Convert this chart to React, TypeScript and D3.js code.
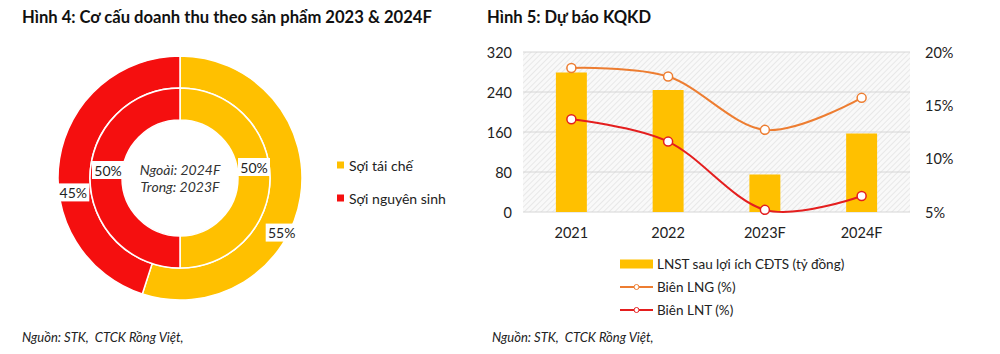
import React from 'react';
import * as d3 from 'd3';

// left chart: revenue structure by product
const productNames = ['Sợi tái chế', 'Sợi nguyên sinh'];
const outer2024 = [55, 45];
const inner2023 = [50, 50];

// right chart: earnings forecast
const years = ['2021', '2022', '2023F', '2024F'];
const lnstValues = [279, 244, 75, 157];
const lngMargin = [18.5, 17.7, 12.7, 15.7];
const lntMargin = [13.7, 11.6, 5.2, 6.5];
const leftTicks = [0, 80, 160, 240, 320];
const rightTicks = [5, 10, 15, 20];

const YELLOW = '#FFC000';
const RED = '#F50F0F';
const ORANGE = '#ED7D31';
const LINE_RED = '#E41E1E';
const FONT = 'Lato, "Open Sans", sans-serif';
const TEXT = '#222';

const Donut = () => {
  const cx = 180, cy = 178;
  const pie = d3.pie<number>().sort(null).startAngle(0).endAngle(2 * Math.PI);
  const outerArc = d3.arc<d3.PieArcDatum<number>>().innerRadius(90).outerRadius(122);
  const innerArc = d3.arc<d3.PieArcDatum<number>>().innerRadius(58).outerRadius(90);
  const colors = [YELLOW, RED];
  const outerArcs = pie(outer2024);
  const innerArcs = pie(inner2023);
  // Excel moved the labels a bit off the centroids
  const outerShift = [[-3, 38], [-2, 31]];
  const innerShift = [[0, -11], [2, -8]];

  const label = (x: number, y: number, t: string, key: string) => (
    <g key={key}>
      <rect x={x - 16} y={y - 9} width={32} height={18} fill="#fff" />
      <text x={x} y={y} textAnchor="middle" dominantBaseline="central" fontSize={14} fill={TEXT}>{t}</text>
    </g>
  );

  return (
    <g fontFamily={FONT}>
      <text x={22} y={23} fontSize={16.6} fontWeight="bold" fill="#111">Hình 4: Cơ cấu doanh thu theo sản phẩm 2023 &amp; 2024F</text>
      <g transform={`translate(${cx},${cy})`}>
        {outerArcs.map((a, i) => (
          <path key={'o' + i} d={outerArc(a) || ''} fill={colors[i]} stroke="#fff" strokeWidth={1.5} />
        ))}
        {innerArcs.map((a, i) => (
          <path key={'i' + i} d={innerArc(a) || ''} fill={colors[i]} stroke="#fff" strokeWidth={1.5} />
        ))}
        {outerArcs.map((a, i) => {
          const [x, y] = outerArc.centroid(a);
          return label(x + outerShift[i][0], y + outerShift[i][1], `${a.data}%`, 'ol' + i);
        })}
        {innerArcs.map((a, i) => {
          const [x, y] = innerArc.centroid(a);
          return label(x + innerShift[i][0], y + innerShift[i][1], `${a.data}%`, 'il' + i);
        })}
        <text x={0} y={-9} textAnchor="middle" dominantBaseline="central" fontSize={14} fontStyle="italic" fill="#333">Ngoài: 2024F</text>
        <text x={0} y={8} textAnchor="middle" dominantBaseline="central" fontSize={14} fontStyle="italic" fill="#333">Trong: 2023F</text>
      </g>
      {productNames.map((n, i) => (
        <g key={n} transform={`translate(337,${165 + i * 33})`}>
          <rect x={0} y={-3.5} width={7} height={7} fill={colors[i]} />
          <text x={12} y={0} dominantBaseline="central" fontSize={14} fill={TEXT}>{n}</text>
        </g>
      ))}
      <text x={22} y={342} fontSize={13} fontStyle="italic" fill={TEXT} style={{ whiteSpace: 'pre' }}>Nguồn: STK,  CTCK Rồng Việt,</text>
    </g>
  );
};

const ComboChart = () => {
  const left = 523, right = 910, top = 52, bottom = 212;
  const x = d3.scaleBand().domain(years).range([left, right]).paddingInner(0.68).paddingOuter(0.34);
  const y = d3.scaleLinear().domain([0, 320]).range([bottom, top]);
  const y2 = d3.scaleLinear().domain([5, 20]).range([bottom, top]);
  const cxOf = (d: string) => (x(d) || 0) + x.bandwidth() / 2;
  const line = d3.line<number>()
    .x((_, i) => cxOf(years[i]))
    .y(d => y2(d))
    .curve(d3.curveCatmullRom.alpha(0));

  return (
    <g fontFamily={FONT}>
      <defs>
        <pattern id="hatch" width={4} height={4} patternUnits="userSpaceOnUse" patternTransform="rotate(45)">
          <rect width={4} height={4} fill="#f9f9f9" />
          <line x1={0} y1={0} x2={0} y2={4} stroke="#dedede" strokeWidth={1.2} />
        </pattern>
      </defs>
      <text x={487} y={23} fontSize={16.6} fontWeight="bold" fill="#111">Hình 5: Dự báo KQKD</text>
      <rect x={left} y={top} width={right - left} height={bottom - top} fill="url(#hatch)" />
      {leftTicks.map(t => (
        <g key={'g' + t}>
          <line x1={left} x2={right} y1={y(t)} y2={y(t)} stroke="#d6d6d6" strokeWidth={1} />
          <text x={512} y={y(t)} textAnchor="end" dominantBaseline="central" fontSize={14.5} fill={TEXT}>{t}</text>
        </g>
      ))}
      {rightTicks.map(t => (
        <text key={'r' + t} x={925} y={y2(t)} dominantBaseline="central" fontSize={14.5} fill={TEXT}>{t}%</text>
      ))}
      {years.map((yr, i) => (
        <g key={yr}>
          <rect x={x(yr)} y={y(lnstValues[i])} width={x.bandwidth()} height={bottom - y(lnstValues[i])} fill={YELLOW} />
          <text x={cxOf(yr)} y={232} textAnchor="middle" dominantBaseline="central" fontSize={14.5} fill={TEXT}>{yr}</text>
        </g>
      ))}
      <path d={line(lngMargin) || ''} fill="none" stroke={ORANGE} strokeWidth={2} />
      <path d={line(lntMargin) || ''} fill="none" stroke={LINE_RED} strokeWidth={2} />
      {lngMargin.map((v, i) => (
        <circle key={'a' + i} cx={cxOf(years[i])} cy={y2(v)} r={4.5} fill="#fff" stroke={ORANGE} strokeWidth={1.5} />
      ))}
      {lntMargin.map((v, i) => (
        <circle key={'b' + i} cx={cxOf(years[i])} cy={y2(v)} r={4.5} fill="#fff" stroke={LINE_RED} strokeWidth={1.5} />
      ))}
      <g transform="translate(620,264)">
        <rect x={0} y={-4.5} width={33} height={9} fill={YELLOW} />
        <text x={37} y={0} dominantBaseline="central" fontSize={13.5} fill={TEXT}>LNST sau lợi ích CĐTS (tỷ đồng)</text>
      </g>
      {[['Biên LNG (%)', ORANGE], ['Biên LNT (%)', LINE_RED]].map(([t, c], i) => (
        <g key={t} transform={`translate(620,${287 + i * 23})`}>
          <line x1={0} x2={33} y1={0} y2={0} stroke={c} strokeWidth={2} />
          <circle cx={16.5} cy={0} r={2.5} fill="#fff" stroke={c} strokeWidth={1} />
          <text x={37} y={0} dominantBaseline="central" fontSize={13.5} fill={TEXT}>{t}</text>
        </g>
      ))}
      <text x={492} y={342} fontSize={13} fontStyle="italic" fill={TEXT} style={{ whiteSpace: 'pre' }}>Nguồn: STK,  CTCK Rồng Việt,</text>
    </g>
  );
};

export default function App() {
  return (
    <svg width={1000} height={354} style={{ position: 'absolute', left: 0, top: 0, background: '#fff' }}>
      <rect width={1000} height={354} fill="#fff" />
      <Donut />
      <ComboChart />
    </svg>
  );
}
